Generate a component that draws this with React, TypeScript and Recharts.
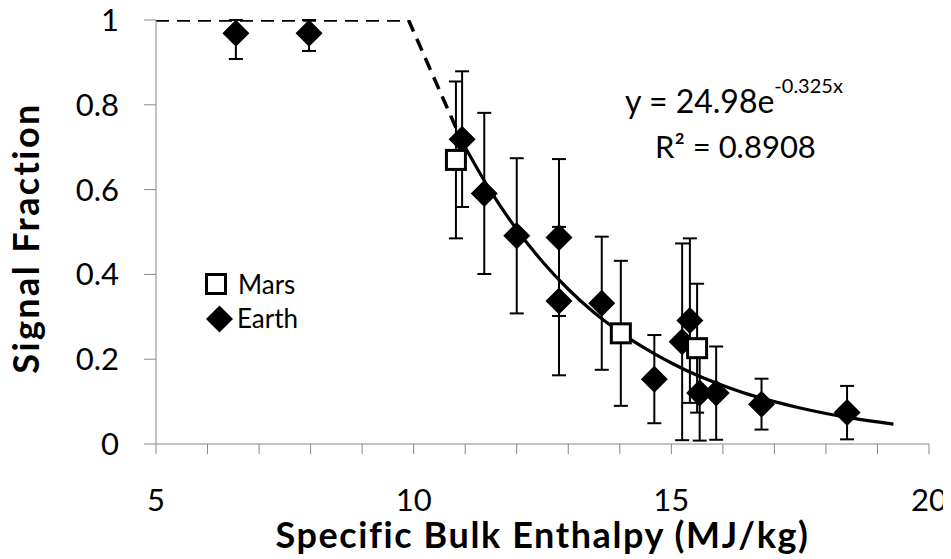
import React from 'react';
import { ComposedChart, Line, Scatter, XAxis, YAxis, ErrorBar } from 'recharts';

const earthX = [6.55, 7.97, 10.94, 11.37, 12.0, 12.82, 12.82, 13.65, 14.67, 15.21, 15.36, 15.55, 15.87, 16.75, 18.41];
const earthY = [0.969, 0.969, 0.719, 0.591, 0.491, 0.487, 0.337, 0.332, 0.153, 0.241, 0.291, 0.12, 0.12, 0.094, 0.074];
const earthErrLow = [0.061, 0.042, 0.16, 0.19, 0.183, 0.185, 0.175, 0.157, 0.104, 0.232, 0.194, 0.112, 0.11, 0.06, 0.063];
const earthErrHigh = [0.031, 0.031, 0.16, 0.19, 0.183, 0.185, 0.175, 0.157, 0.104, 0.232, 0.194, 0.112, 0.11, 0.06, 0.063];

// Mars measurements
const marsX = [10.82, 14.02, 15.5];
const marsY = [0.67, 0.261, 0.226];
const marsErr = [0.185, 0.171, 0.152];

// dashed upper bound
const boundX = [5, 9.9, 10.94];
const boundY = [1, 1, 0.713];

// exponential fit, points
const fitX = [10.94, 11.5, 12, 12.5, 13, 13.5, 14, 14.5, 15, 15.5, 16, 16.5, 17, 17.5, 18, 18.5, 19, 19.31];
const fitY = [0.713, 0.595, 0.506, 0.43, 0.365, 0.31, 0.264, 0.225, 0.191, 0.162, 0.138, 0.117, 0.1, 0.085, 0.072, 0.061, 0.052, 0.047];

const xTicks = [5, 6, 7, 8, 9, 10, 11, 12, 13, 14, 15, 16, 17, 18, 19, 20];
const yTicks = [0, 0.2, 0.4, 0.6, 0.8, 1];

const earthData = earthX.map((x, i) => ({ x, y: earthY[i], err: [earthErrLow[i], earthErrHigh[i]] }));
const marsData = marsX.map((x, i) => ({ x, y: marsY[i], err: marsErr[i] }));
const boundData = boundX.map((x, i) => ({ x, y: boundY[i] }));
const fitData = fitX.map((x, i) => ({ x, y: fitY[i] }));

const FONT = 'Lato, "Open Sans", sans-serif';
const AXIS = '#868686';

const Diamond = (props: any) => {
    const { cx, cy } = props;
    const r = 13.5;
    return <polygon points={`${cx},${cy - r} ${cx + r},${cy} ${cx},${cy + r} ${cx - r},${cy}`} fill="#000" />;
};

const Square = (props: any) => {
    const { cx, cy } = props;
    return <rect x={cx - 9.5} y={cy - 9.5} width={19} height={19} fill="#fff" stroke="#000" strokeWidth={3} />;
};

const XTick = (props: any) => {
    const { x, y, payload } = props;
    if (payload.value % 5 !== 0) return <g />;
    return (
        <text x={x} y={y} dy="0.71em" textAnchor="middle" fontSize={31} fill="#000" fontFamily={FONT}>
            {payload.value}
        </text>
    );
};

export default function App() {
    return (
        <div style={{ position: 'relative', width: 943, height: 551 }}>
            <ComposedChart width={943} height={551} margin={{ top: 12, right: 22, left: 0, bottom: 0 }} style={{ fontFamily: FONT }}>
                <XAxis
                    type="number"
                    dataKey="x"
                    domain={[5, 20]}
                    ticks={xTicks}
                    interval={0}
                    allowDataOverflow
                    tick={<XTick />}
                    tickSize={10}
                    tickMargin={35}
                    height={115}
                    axisLine={{ stroke: AXIS }}
                    tickLine={{ stroke: AXIS }}
                />
                <YAxis
                    type="number"
                    dataKey="y"
                    domain={[0, 1]}
                    ticks={yTicks}
                    interval={0}
                    allowDataOverflow
                    width={148}
                    tickSize={12}
                    tickMargin={25}
                    tick={{ fontSize: 31, fill: '#000', fontFamily: FONT }}
                    axisLine={{ stroke: AXIS }}
                    tickLine={{ stroke: AXIS }}
                />
                <Line
                    data={boundData}
                    dataKey="y"
                    type="linear"
                    stroke="#000"
                    strokeWidth={3.5}
                    strokeDasharray="13 8"
                    dot={false}
                    activeDot={false}
                    isAnimationActive={false}
                />
                <Line
                    data={fitData}
                    dataKey="y"
                    type="monotone"
                    stroke="#000"
                    strokeWidth={3.2}
                    dot={false}
                    activeDot={false}
                    isAnimationActive={false}
                />
                <Scatter name="Earth" data={earthData} shape={<Diamond />} isAnimationActive={false}>
                    <ErrorBar dataKey="err" direction="y" width={7} stroke="#000" strokeWidth={2} />
                </Scatter>
                <Scatter name="Mars" data={marsData} shape={<Square />} isAnimationActive={false}>
                    <ErrorBar dataKey="err" direction="y" width={7} stroke="#000" strokeWidth={2} />
                </Scatter>
            </ComposedChart>
            <svg
                width={943}
                height={551}
                style={{ position: 'absolute', left: 0, top: 0, pointerEvents: 'none' }}
                fontFamily={FONT}
            >
                {/* legend */}
                <g transform="translate(190, 262)">
                    <rect x={8.5} y={4.5} width={19} height={19} fill="#fff" stroke="#000" strokeWidth={3} />
                    <text x={40} y={24} fontSize={26} fill="#000">Mars</text>
                    <polygon points="21.5,35.5 35,49 21.5,62.5 8,49" fill="#000" />
                    <text x={39} y={58} fontSize={26} fill="#000">Earth</text>
                </g>
                <text x={617} y={105} fontSize={32} fill="#000">
                    y = 24.98e<tspan dy={-20} fontSize={20}>-0.325x</tspan>
                </text>
                <text x={647} y={150} fontSize={31} fill="#000">R² = 0.8908</text>
                <text x={534.5} y={540} fontSize={36} fontWeight="bold" letterSpacing={1.6} textAnchor="middle" fill="#000">
                    Specific Bulk Enthalpy (MJ/kg)
                </text>
                <text
                    x={31}
                    y={230}
                    fontSize={36}
                    fontWeight="bold"
                    letterSpacing={2.4}
                    textAnchor="middle"
                    fill="#000"
                    transform="rotate(-90, 31, 230)"
                >
                    Signal Fraction
                </text>
            </svg>
        </div>
    );
}
